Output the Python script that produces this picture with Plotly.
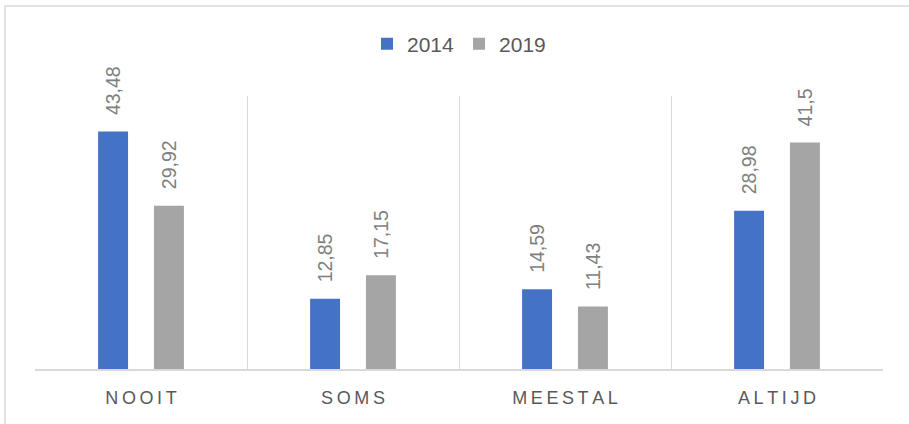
import plotly.graph_objects as go

categories = ["NOOIT", "SOMS", "MEESTAL", "ALTIJD"]
series_names = ["2014", "2019"]
values_2014 = [43.48, 12.85, 14.59, 28.98]
values_2019 = [29.92, 17.15, 11.43, 41.5]
colors = ["#4472C4", "#A5A5A5"]

W, H = 909, 424
ML, MR, MT, MB = 35, 26, 96, 55
PW = W - ML - MR
PH = H - MT - MB

FONT = "Liberation Sans"
TXT = "#595959"
LBL = "#7F7F7F"

def spaced(s):
    return "\u2009".join(s)

def fmt(v):
    return str(v).replace(".", ",")

fig = go.Figure()
for name, vals, col in zip(series_names, [values_2014, values_2019], colors):
    fig.add_trace(go.Bar(name=name, x=categories, y=vals, marker_color=col,
                         marker_line_width=0, hoverinfo="skip"))

# data labels (rotated) above bars
offsets = [-28, 28]
for vals, dx in zip([values_2014, values_2019], offsets):
    for c, v in zip(categories, vals):
        fig.add_annotation(x=c, y=v, xref="x", yref="y", text=fmt(v),
                           textangle=-90, showarrow=False, xanchor="center",
                           yanchor="bottom", xshift=dx, yshift=14,
                           font=dict(family=FONT, size=19.5, color=LBL))

# outer chart border
fig.add_shape(type="rect", xref="paper", yref="paper",
              x0=(5 - ML) / PW, x1=(W + 10 - ML) / PW,
              y0=(H - MB - (H + 10)) / PH, y1=(H - MB - 6) / PH,
              line=dict(color="#D9D9D9", width=1.5), fillcolor="rgba(0,0,0,0)",
              layer="below")

fig.update_layout(
    width=W, height=H,
    margin=dict(l=ML, r=MR, t=MT, b=MB),
    paper_bgcolor="white", plot_bgcolor="white",
    barmode="group", bargap=0.473, bargroupgap=0.464,
    font=dict(family=FONT, color=TXT),
    showlegend=True,
    legend=dict(orientation="h", x=0.5, xanchor="center", y=1.19, yanchor="middle",
                font=dict(family=FONT, size=21, color=TXT),
                itemwidth=30, traceorder="normal"),
    xaxis=dict(type="category", tickson="boundaries", showgrid=True,
               gridcolor="#D9D9D9", gridwidth=1.3, ticks="",
               showline=True, linecolor="#D9D9D9", linewidth=1.5,
               tickmode="array", tickvals=categories,
               ticktext=[spaced(c) for c in categories],
               tickfont=dict(family=FONT, size=18, color=TXT),
               ticklabelstandoff=12, zeroline=False),
    yaxis=dict(range=[0, 50], visible=False, showgrid=False, zeroline=False),
)

fig.write_html("out.html", config={"displayModeBar": False},
               post_script="document.body.style.margin='0';document.body.style.overflow='hidden';")
